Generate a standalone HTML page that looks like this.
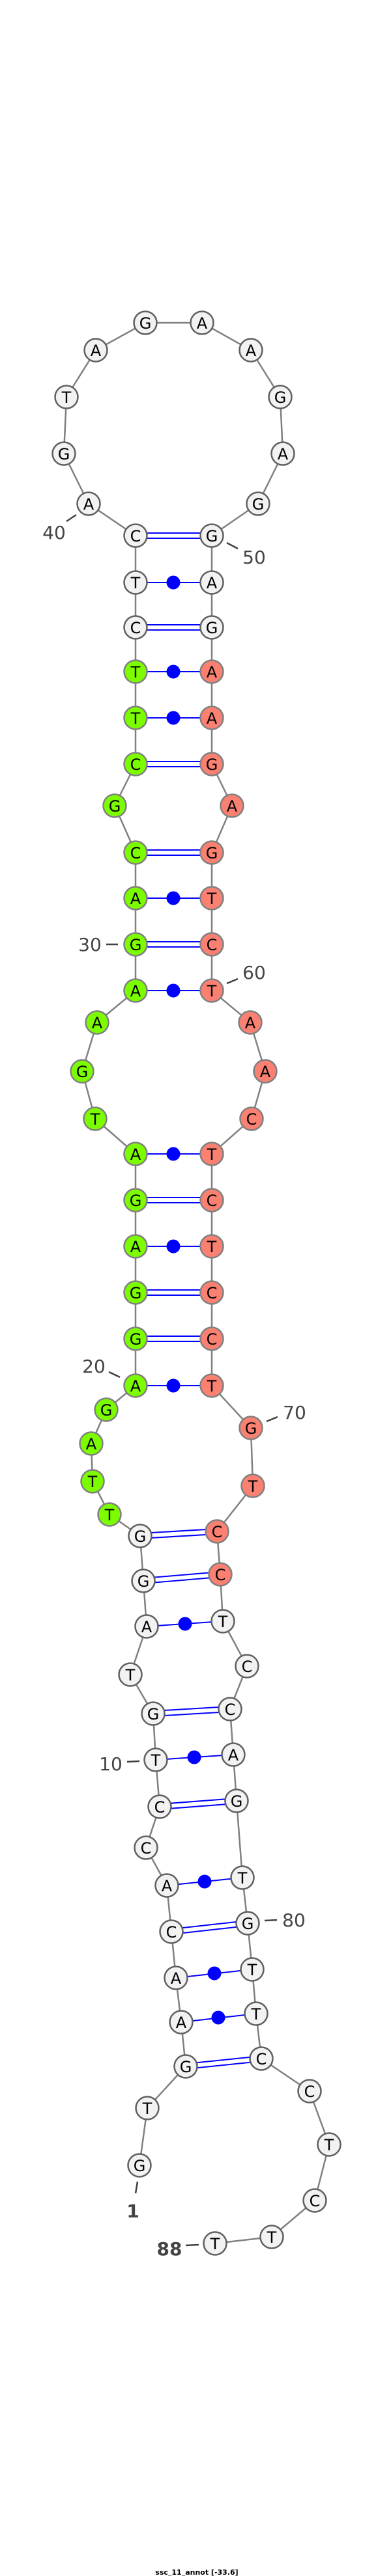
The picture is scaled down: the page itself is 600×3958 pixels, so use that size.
<!DOCTYPE html>
<html><head><meta charset="utf-8"><style>
html,body{margin:0;padding:0;background:#fff;}
svg{display:block;}
.n text{font-family:"DejaVu Sans","Liberation Sans",sans-serif;font-size:24px;text-anchor:middle;dominant-baseline:central;fill:#000;}
.lab{font-family:"DejaVu Sans","Liberation Sans",sans-serif;font-size:28px;fill:#444;text-anchor:middle;}
</style></head><body>
<svg width="600" height="3958" viewBox="0 0 600 3958" xmlns="http://www.w3.org/2000/svg">
<polyline fill="none" stroke="#808080" stroke-width="2.5" points="214,3327 226,3239 285,3175 278,3107 270,3039 263,2968 256,2897 224,2839 245,2776 239,2704 235,2633 200,2573 225,2499 220,2429 215,2360 168,2327 142,2276 140,2218 163,2166 208,2129 208,2057 208,1986 208,1915 208,1844 208,1773 146,1719 126,1646 149,1571 208,1522 208,1451 208,1380 208,1310 176,1238 208,1174 208,1103 208,1032 208,964 208,895 208,823 136,774 98,697 102,610 147,538 223,496 310,496 385,538 430,610 434,697 396,774 325,823 325,895 325,964 325,1032 325,1103 325,1174 356,1238 325,1310 325,1380 325,1451 325,1522 384,1571 407,1646 386,1719 325,1773 325,1844 325,1915 325,1986 325,2057 325,2129 385,2194 388,2283 333,2353 338,2419 342,2491 379,2560 353,2626 358,2696 363,2767 372,2885 380,2955 387,3026 393,3094 401,3163 475,3213 505,3295 483,3381 417,3437 330,3447"/>
<g stroke="#0000ff" stroke-width="2">
<!-- double pairs -->
<line x1="285" y1="3171" x2="401" y2="3159"/><line x1="285" y1="3179" x2="401" y2="3167"/>
<line x1="263" y1="2964" x2="380" y2="2951"/><line x1="263" y1="2972" x2="380" y2="2959"/>
<line x1="245" y1="2772" x2="363" y2="2763"/><line x1="245" y1="2780" x2="363" y2="2771"/>
<line x1="235" y1="2629" x2="353" y2="2622"/><line x1="235" y1="2637" x2="353" y2="2630"/>
<line x1="220" y1="2425" x2="338" y2="2415"/><line x1="220" y1="2433" x2="338" y2="2423"/>
<line x1="215" y1="2356" x2="333" y2="2349"/><line x1="215" y1="2364" x2="333" y2="2357"/>
<line x1="208" y1="2053" x2="325" y2="2053"/><line x1="208" y1="2061" x2="325" y2="2061"/>
<line x1="208" y1="1982" x2="325" y2="1982"/><line x1="208" y1="1990" x2="325" y2="1990"/>
<line x1="208" y1="1840" x2="325" y2="1840"/><line x1="208" y1="1848" x2="325" y2="1848"/>
<line x1="208" y1="1447" x2="325" y2="1447"/><line x1="208" y1="1455" x2="325" y2="1455"/>
<line x1="208" y1="1306" x2="325" y2="1306"/><line x1="208" y1="1314" x2="325" y2="1314"/>
<line x1="208" y1="1170" x2="325" y2="1170"/><line x1="208" y1="1178" x2="325" y2="1178"/>
<line x1="208" y1="960" x2="325" y2="960"/><line x1="208" y1="968" x2="325" y2="968"/>
<line x1="208" y1="819" x2="325" y2="819"/><line x1="208" y1="827" x2="325" y2="827"/>
<!-- single pairs -->
<line x1="278" y1="3107" x2="393" y2="3094"/>
<line x1="270" y1="3039" x2="387" y2="3026"/>
<line x1="256" y1="2897" x2="372" y2="2885"/>
<line x1="239" y1="2704" x2="358" y2="2696"/>
<line x1="225" y1="2499" x2="342" y2="2491"/>
<line x1="208" y1="2129" x2="325" y2="2129"/>
<line x1="208" y1="1915" x2="325" y2="1915"/>
<line x1="208" y1="1773" x2="325" y2="1773"/>
<line x1="208" y1="1522" x2="325" y2="1522"/>
<line x1="208" y1="1380" x2="325" y2="1380"/>
<line x1="208" y1="1103" x2="325" y2="1103"/>
<line x1="208" y1="1032" x2="325" y2="1032"/>
<line x1="208" y1="895" x2="325" y2="895"/>
</g>
<g fill="#0000ff">
<circle cx="335" cy="3100" r="10.5"/><circle cx="329" cy="3032" r="10.5"/><circle cx="314" cy="2891" r="10.5"/>
<circle cx="298" cy="2700" r="10.5"/><circle cx="284" cy="2495" r="10.5"/>
<circle cx="266" cy="2129" r="10.5"/><circle cx="266" cy="1915" r="10.5"/><circle cx="266" cy="1773" r="10.5"/>
<circle cx="266" cy="1522" r="10.5"/><circle cx="266" cy="1380" r="10.5"/><circle cx="266" cy="1103" r="10.5"/>
<circle cx="266" cy="1032" r="10.5"/><circle cx="266" cy="895" r="10.5"/>
</g>
<g stroke="#404040" stroke-width="2.5">
<line x1="117" y1="791" x2="102" y2="801"/>
<line x1="348" y1="834" x2="365" y2="843"/>
<line x1="163" y1="1451" x2="181" y2="1451"/>
<line x1="348" y1="1511" x2="365" y2="1504"/>
<line x1="167" y1="2108" x2="184" y2="2116"/>
<line x1="409" y1="2184" x2="426" y2="2177"/>
<line x1="195" y1="2707" x2="214" y2="2706"/>
<line x1="406" y1="2951" x2="425" y2="2950"/>
<line x1="211" y1="3352" x2="208" y2="3370"/>
<line x1="285" y1="3450" x2="305" y2="3449"/>
</g>
<g class="lab">
<text x="83" y="828">40</text>
<text x="390" y="866">50</text>
<text x="138" y="1461">30</text>
<text x="390" y="1504">60</text>
<text x="144" y="2109">20</text>
<text x="452" y="2180">70</text>
<text x="170" y="2720">10</text>
<text x="451" y="2960">80</text>
<text x="204" y="3407" style="font-weight:bold">1</text>
<text x="260" y="3465" style="font-weight:bold">88</text>
</g>
<g class="n" stroke-width="2.5">
<g stroke="#606060" fill="#f2f2f2">
<circle cx="214" cy="3327" r="17.5"/><circle cx="226" cy="3239" r="17.5"/><circle cx="285" cy="3175" r="17.5"/><circle cx="278" cy="3107" r="17.5"/><circle cx="270" cy="3039" r="17.5"/><circle cx="263" cy="2968" r="17.5"/><circle cx="256" cy="2897" r="17.5"/><circle cx="224" cy="2839" r="17.5"/><circle cx="245" cy="2776" r="17.5"/><circle cx="239" cy="2704" r="17.5"/><circle cx="235" cy="2633" r="17.5"/><circle cx="200" cy="2573" r="17.5"/><circle cx="225" cy="2499" r="17.5"/><circle cx="220" cy="2429" r="17.5"/><circle cx="215" cy="2360" r="17.5"/>
<circle cx="208" cy="964" r="17.5"/><circle cx="208" cy="895" r="17.5"/><circle cx="208" cy="823" r="17.5"/><circle cx="136" cy="774" r="17.5"/><circle cx="98" cy="697" r="17.5"/><circle cx="102" cy="610" r="17.5"/><circle cx="147" cy="538" r="17.5"/><circle cx="223" cy="496" r="17.5"/><circle cx="310" cy="496" r="17.5"/><circle cx="385" cy="538" r="17.5"/><circle cx="430" cy="610" r="17.5"/><circle cx="434" cy="697" r="17.5"/><circle cx="396" cy="774" r="17.5"/><circle cx="325" cy="823" r="17.5"/><circle cx="325" cy="895" r="17.5"/><circle cx="325" cy="964" r="17.5"/>
<circle cx="342" cy="2491" r="17.5"/><circle cx="379" cy="2560" r="17.5"/><circle cx="353" cy="2626" r="17.5"/><circle cx="358" cy="2696" r="17.5"/><circle cx="363" cy="2767" r="17.5"/><circle cx="372" cy="2885" r="17.5"/><circle cx="380" cy="2955" r="17.5"/><circle cx="387" cy="3026" r="17.5"/><circle cx="393" cy="3094" r="17.5"/><circle cx="401" cy="3163" r="17.5"/><circle cx="475" cy="3213" r="17.5"/><circle cx="505" cy="3295" r="17.5"/><circle cx="483" cy="3381" r="17.5"/><circle cx="417" cy="3437" r="17.5"/><circle cx="330" cy="3447" r="17.5"/>
</g>
<g stroke="#808080" fill="#7cfc00">
<circle cx="168" cy="2327" r="17.5"/><circle cx="142" cy="2276" r="17.5"/><circle cx="140" cy="2218" r="17.5"/><circle cx="163" cy="2166" r="17.5"/><circle cx="208" cy="2129" r="17.5"/><circle cx="208" cy="2057" r="17.5"/><circle cx="208" cy="1986" r="17.5"/><circle cx="208" cy="1915" r="17.5"/><circle cx="208" cy="1844" r="17.5"/><circle cx="208" cy="1773" r="17.5"/><circle cx="146" cy="1719" r="17.5"/><circle cx="126" cy="1646" r="17.5"/><circle cx="149" cy="1571" r="17.5"/><circle cx="208" cy="1522" r="17.5"/><circle cx="208" cy="1451" r="17.5"/><circle cx="208" cy="1380" r="17.5"/><circle cx="208" cy="1310" r="17.5"/><circle cx="176" cy="1238" r="17.5"/><circle cx="208" cy="1174" r="17.5"/><circle cx="208" cy="1103" r="17.5"/><circle cx="208" cy="1032" r="17.5"/>
</g>
<g stroke="#808080" fill="#fa8072">
<circle cx="325" cy="1032" r="17.5"/><circle cx="325" cy="1103" r="17.5"/><circle cx="325" cy="1174" r="17.5"/><circle cx="356" cy="1238" r="17.5"/><circle cx="325" cy="1310" r="17.5"/><circle cx="325" cy="1380" r="17.5"/><circle cx="325" cy="1451" r="17.5"/><circle cx="325" cy="1522" r="17.5"/><circle cx="384" cy="1571" r="17.5"/><circle cx="407" cy="1646" r="17.5"/><circle cx="386" cy="1719" r="17.5"/><circle cx="325" cy="1773" r="17.5"/><circle cx="325" cy="1844" r="17.5"/><circle cx="325" cy="1915" r="17.5"/><circle cx="325" cy="1986" r="17.5"/><circle cx="325" cy="2057" r="17.5"/><circle cx="325" cy="2129" r="17.5"/><circle cx="385" cy="2194" r="17.5"/><circle cx="388" cy="2283" r="17.5"/><circle cx="333" cy="2353" r="17.5"/><circle cx="338" cy="2419" r="17.5"/>
</g>
<text x="214" y="3328">G</text><text x="226" y="3240">T</text><text x="285" y="3176">G</text><text x="278" y="3108">A</text><text x="270" y="3040">A</text><text x="263" y="2969">C</text><text x="256" y="2898">A</text><text x="224" y="2840">C</text><text x="245" y="2777">C</text><text x="239" y="2705">T</text><text x="235" y="2634">G</text><text x="200" y="2574">T</text><text x="225" y="2500">A</text><text x="220" y="2430">G</text><text x="215" y="2361">G</text>
<text x="168" y="2328">T</text><text x="142" y="2277">T</text><text x="140" y="2219">A</text><text x="163" y="2167">G</text><text x="208" y="2130">A</text><text x="208" y="2058">G</text><text x="208" y="1987">G</text><text x="208" y="1916">A</text><text x="208" y="1845">G</text><text x="208" y="1774">A</text><text x="146" y="1720">T</text><text x="126" y="1647">G</text><text x="149" y="1572">A</text><text x="208" y="1523">A</text><text x="208" y="1452">G</text><text x="208" y="1381">A</text><text x="208" y="1311">C</text><text x="176" y="1239">G</text><text x="208" y="1175">C</text><text x="208" y="1104">T</text><text x="208" y="1033">T</text>
<text x="208" y="965">C</text><text x="208" y="896">T</text><text x="208" y="824">C</text><text x="136" y="775">A</text><text x="98" y="698">G</text><text x="102" y="611">T</text><text x="147" y="539">A</text><text x="223" y="497">G</text><text x="310" y="497">A</text><text x="385" y="539">A</text><text x="430" y="611">G</text><text x="434" y="698">A</text><text x="396" y="775">G</text><text x="325" y="824">G</text><text x="325" y="896">A</text><text x="325" y="965">G</text>
<text x="325" y="1033">A</text><text x="325" y="1104">A</text><text x="325" y="1175">G</text><text x="356" y="1239">A</text><text x="325" y="1311">G</text><text x="325" y="1381">T</text><text x="325" y="1452">C</text><text x="325" y="1523">T</text><text x="384" y="1572">A</text><text x="407" y="1647">A</text><text x="386" y="1720">C</text><text x="325" y="1774">T</text><text x="325" y="1845">C</text><text x="325" y="1916">T</text><text x="325" y="1987">C</text><text x="325" y="2058">C</text><text x="325" y="2130">T</text><text x="385" y="2195">G</text><text x="388" y="2284">T</text><text x="333" y="2354">C</text><text x="338" y="2420">C</text>
<text x="342" y="2492">T</text><text x="379" y="2561">C</text><text x="353" y="2627">C</text><text x="358" y="2697">A</text><text x="363" y="2768">G</text><text x="372" y="2886">T</text><text x="380" y="2956">G</text><text x="387" y="3027">T</text><text x="393" y="3095">T</text><text x="401" y="3164">C</text><text x="475" y="3214">C</text><text x="505" y="3296">T</text><text x="483" y="3382">C</text><text x="417" y="3438">T</text><text x="330" y="3448">T</text>
</g>
<text x="302" y="3956" style="font-family:'DejaVu Sans','Liberation Sans',sans-serif;font-size:11px;font-weight:bold;text-anchor:middle;fill:#000">ssc_11_annot [-33.6]</text>
</svg>
</body></html>
